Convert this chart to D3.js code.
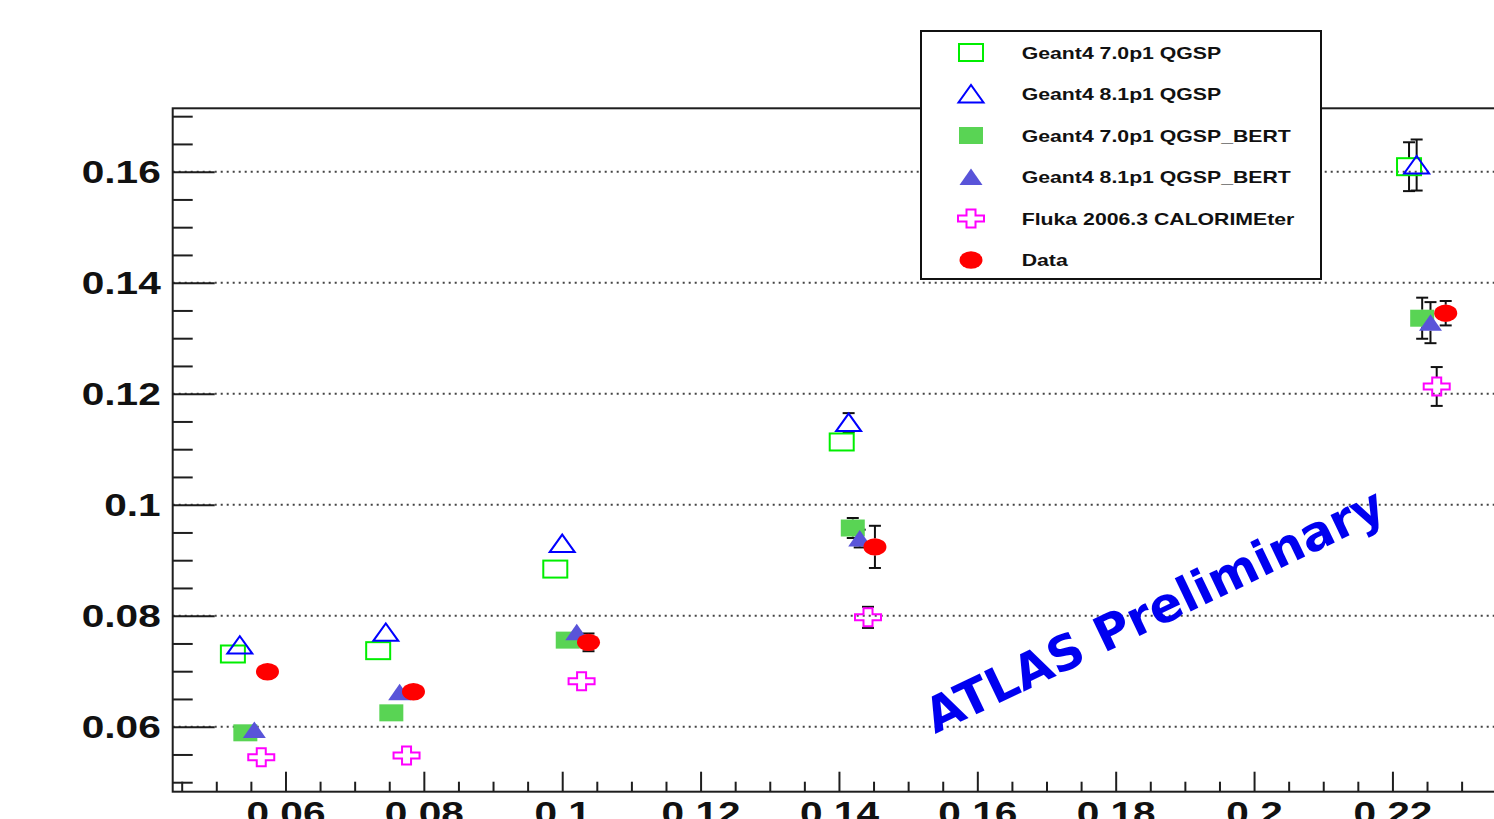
<!DOCTYPE html>
<html>
<head>
<meta charset="utf-8">
<script src="https://cdn.jsdelivr.net/npm/d3@7"></script>
<style>
  html, body { margin: 0; padding: 0; background: #fff; overflow: hidden; }
  svg { display: block; }
</style>
</head>
<body>
<svg id="chart" width="1494" height="819"></svg>
<script>
// ---- data -------------------------------------------------------------
const seriesNames = [
  "Geant4 7.0p1 QGSP",
  "Geant4 8.1p1 QGSP",
  "Geant4 7.0p1 QGSP_BERT",
  "Geant4 8.1p1 QGSP_BERT",
  "Fluka 2006.3 CALORIMEter",
  "Data"
];

const xG470QGSP  = [0.0524, 0.0734, 0.0990, 0.1404, 0.2224];
const yG470QGSP  = [0.0731, 0.0737, 0.0884, 0.1113, 0.1609];
const eG470QGSP  = [0.0005, 0.0005, 0.0006, 0.0015, 0.0044];

const xG481QGSP  = [0.0534, 0.0745, 0.1000, 0.1414, 0.2235];
const yG481QGSP  = [0.0747, 0.0770, 0.0930, 0.1148, 0.1612];
const eG481QGSP  = [0.0005, 0.0005, 0.0006, 0.0017, 0.0046];

const xG470BERT  = [0.0542, 0.0753, 0.1008, 0.1420, 0.2243];
const yG470BERT  = [0.0589, 0.0625, 0.0756, 0.0958, 0.1336];
const eG470BERT  = [0.0005, 0.0005, 0.0006, 0.0018, 0.0037];

const xG481BERT  = [0.0555, 0.0765, 0.1021, 0.1430, 0.2255];
const yG481BERT  = [0.0594, 0.0662, 0.0770, 0.0939, 0.1328];
const eG481BERT  = [0.0005, 0.0005, 0.0006, 0.0016, 0.0037];

const xFluka     = [0.0565, 0.0775, 0.1028, 0.1442, 0.2264];
const yFluka     = [0.0545, 0.0548, 0.0682, 0.0797, 0.1213];
const eFluka     = [0.0005, 0.0005, 0.0006, 0.0019, 0.0035];

const xData      = [0.0574, 0.0785, 0.1038, 0.1452, 0.2277];
const yData      = [0.0699, 0.0663, 0.0752, 0.0924, 0.1345];
const eData      = [0.0005, 0.0005, 0.0016, 0.0038, 0.0022];

const xTicks      = [0.06, 0.08, 0.10, 0.12, 0.14, 0.16, 0.18, 0.20, 0.22];
const xTickLabels = ["0.06", "0.08", "0.1", "0.12", "0.14", "0.16", "0.18", "0.2", "0.22"];
const yTicks      = [0.06, 0.08, 0.10, 0.12, 0.14, 0.16];
const yTickLabels = ["0.06", "0.08", "0.1", "0.12", "0.14", "0.16"];

// ---- layout -----------------------------------------------------------
const svg = d3.select("#chart");
const frame = { left: 172.7, top: 108.3, right: 1505.2, bottom: 791.7 };
const xDomain = [0.0437, 0.2363];
const yDomain = [0.04829, 0.17142];
const x = d3.scaleLinear().domain(xDomain).range([frame.left, frame.right]);
const y = d3.scaleLinear().domain(yDomain).range([frame.bottom, frame.top]);

const axisColor = "#1e1e1e";
const labelFont = "'Liberation Sans', Arial, Helvetica, sans-serif";
const labelStretch = 1.31;

// marker shapes (centred on 0,0) with their half heights
const markerDefs = [
  { kind: "openSquare",    color: "#00ee00", halfH: 8.5 },
  { kind: "openTriangle",  color: "#0000ff", halfH: 9 },
  { kind: "filledSquare",  color: "#59d454", halfH: 8.5 },
  { kind: "filledTriangle",color: "#5954d9", halfH: 8 },
  { kind: "openCross",     color: "#ff00ff", halfH: 9 },
  { kind: "filledCircle",  color: "#ff0000", halfH: 8.5 }
];

const series = [
  { name: seriesNames[0], xs: xG470QGSP, ys: yG470QGSP, es: eG470QGSP, m: markerDefs[0] },
  { name: seriesNames[1], xs: xG481QGSP, ys: yG481QGSP, es: eG481QGSP, m: markerDefs[1] },
  { name: seriesNames[2], xs: xG470BERT, ys: yG470BERT, es: eG470BERT, m: markerDefs[2] },
  { name: seriesNames[3], xs: xG481BERT, ys: yG481BERT, es: eG481BERT, m: markerDefs[3] },
  { name: seriesNames[4], xs: xFluka,    ys: yFluka,    es: eFluka,    m: markerDefs[4] },
  { name: seriesNames[5], xs: xData,     ys: yData,     es: eData,     m: markerDefs[5] }
];

function drawMarker(g, m) {
  switch (m.kind) {
    case "openSquare":
      g.append("rect").attr("x", -12).attr("y", -8.5).attr("width", 24).attr("height", 17)
        .attr("fill", "none").attr("stroke", m.color).attr("stroke-width", 2);
      break;
    case "openTriangle":
      g.append("path").attr("d", "M-12.5,8.5 L12.5,8.5 L0,-9 Z")
        .attr("fill", "none").attr("stroke", m.color).attr("stroke-width", 2)
        .attr("stroke-linejoin", "miter");
      break;
    case "filledSquare":
      g.append("rect").attr("x", -12).attr("y", -8.5).attr("width", 24).attr("height", 17)
        .attr("fill", m.color);
      break;
    case "filledTriangle":
      g.append("path").attr("d", "M-11.5,8 L11.5,8 L0,-8.5 Z").attr("fill", m.color);
      break;
    case "openCross": {
      const a = 13, b = 4.5, c = 9, d = 3;
      g.append("path")
        .attr("d", `M${-b},${-c} L${b},${-c} L${b},${-d} L${a},${-d} L${a},${d} L${b},${d} L${b},${c} L${-b},${c} L${-b},${d} L${-a},${d} L${-a},${-d} L${-b},${-d} Z`)
        .attr("fill", "none").attr("stroke", m.color).attr("stroke-width", 2);
      break;
    }
    case "filledCircle":
      g.append("ellipse").attr("rx", 11.5).attr("ry", 8.7).attr("fill", m.color);
      break;
  }
}

// ---- grid (dotted, at major y ticks) ----------------------------------
svg.append("g").selectAll("line").data(yTicks).join("line")
  .attr("x1", frame.left).attr("x2", frame.right)
  .attr("y1", d => y(d)).attr("y2", d => y(d))
  .attr("stroke", "#444").attr("stroke-width", 2)
  .attr("stroke-dasharray", "2,4");

// ---- axes -------------------------------------------------------------
const yMinor = d3.range(0.05, 0.1701, 0.005).filter(v => !yTicks.some(t => Math.abs(t - v) < 1e-6));
const xMinor = d3.range(0.045, 0.2351, 0.005).filter(v => !xTicks.some(t => Math.abs(t - v) < 1e-6));

const yAxisMajor = svg.append("g").attr("transform", `translate(${frame.left},0)`)
  .call(d3.axisLeft(y).tickValues(yTicks).tickSize(-42).tickPadding(0)
    .tickFormat((d, i) => yTickLabels[i]));
const yAxisMinor = svg.append("g").attr("transform", `translate(${frame.left},0)`)
  .call(d3.axisLeft(y).tickValues(yMinor).tickSize(-20).tickFormat(""));

const xAxisMajor = svg.append("g").attr("transform", `translate(0,${frame.bottom})`)
  .call(d3.axisBottom(x).tickValues(xTicks).tickSize(-20).tickPadding(10)
    .tickFormat((d, i) => xTickLabels[i]));
const xAxisMinor = svg.append("g").attr("transform", `translate(0,${frame.bottom})`)
  .call(d3.axisBottom(x).tickValues(xMinor).tickSize(-10).tickFormat(""));

[yAxisMajor, yAxisMinor, xAxisMajor, xAxisMinor].forEach(ax => {
  ax.select(".domain").remove();
  ax.selectAll(".tick line").attr("stroke", axisColor).attr("stroke-width", 2);
});

yAxisMajor.selectAll(".tick text")
  .attr("x", -12 / labelStretch).attr("dy", "0.36em")
  .attr("transform", `scale(${labelStretch},1)`)
  .attr("font-family", labelFont).attr("font-weight", "bold")
  .attr("font-size", 31).attr("fill", "#111");

xAxisMajor.selectAll(".tick text")
  .attr("transform", `scale(${labelStretch},1)`)
  .attr("font-family", labelFont).attr("font-weight", "bold")
  .attr("font-size", 31).attr("fill", "#111");

// ---- frame ------------------------------------------------------------
svg.append("rect")
  .attr("x", frame.left).attr("y", frame.top)
  .attr("width", frame.right - frame.left).attr("height", frame.bottom - frame.top)
  .attr("fill", "none").attr("stroke", axisColor).attr("stroke-width", 2);

// ---- error bars (drawn outside the marker, with end caps) ---------------
const errG = svg.append("g");
series.forEach(s => {
  s.xs.forEach((xv, i) => {
    const cx = x(xv), cy = y(s.ys[i]);
    const ePx = y(s.ys[i] - s.es[i]) - cy;
    if (ePx <= s.m.halfH) return;
    [-1, 1].forEach(dir => {
      errG.append("line")
        .attr("x1", cx).attr("x2", cx)
        .attr("y1", cy + dir * s.m.halfH).attr("y2", cy + dir * ePx)
        .attr("stroke", "#111").attr("stroke-width", 2);
      errG.append("line")
        .attr("x1", cx - 6).attr("x2", cx + 6)
        .attr("y1", cy + dir * ePx).attr("y2", cy + dir * ePx)
        .attr("stroke", "#111").attr("stroke-width", 2);
    });
  });
});

// ---- markers ----------------------------------------------------------
series.forEach(s => {
  const g = svg.append("g");
  s.xs.forEach((xv, i) => {
    const mg = g.append("g").attr("transform", `translate(${x(xv)},${y(s.ys[i])})`);
    drawMarker(mg, s.m);
  });
});

// ---- ATLAS label ------------------------------------------------------
svg.append("text")
  .attr("transform", "translate(935,734) rotate(-25.6)")
  .attr("font-family", "'DejaVu Sans', sans-serif")
  .attr("font-weight", "bold").attr("font-size", 48.5)
  .attr("fill", "#0000f0")
  .text("ATLAS Preliminary");

// ---- legend -----------------------------------------------------------
const legend = svg.append("g");
legend.append("rect")
  .attr("x", 921).attr("y", 31).attr("width", 400).attr("height", 248)
  .attr("fill", "#fff").attr("stroke", "#111").attr("stroke-width", 2);

const legendRows = d3.range(series.length).map(i => 52.5 + i * 41.5);
series.forEach((s, i) => {
  const mg = legend.append("g").attr("transform", `translate(971,${legendRows[i]})`);
  drawMarker(mg, s.m);
  legend.append("text")
    .attr("transform", `translate(1021.7,${legendRows[i] + 6}) scale(1.25,1)`)
    .attr("font-family", labelFont).attr("font-weight", "bold")
    .attr("font-size", 17).attr("fill", "#111")
    .text(s.name);
});
</script>
</body>
</html>
